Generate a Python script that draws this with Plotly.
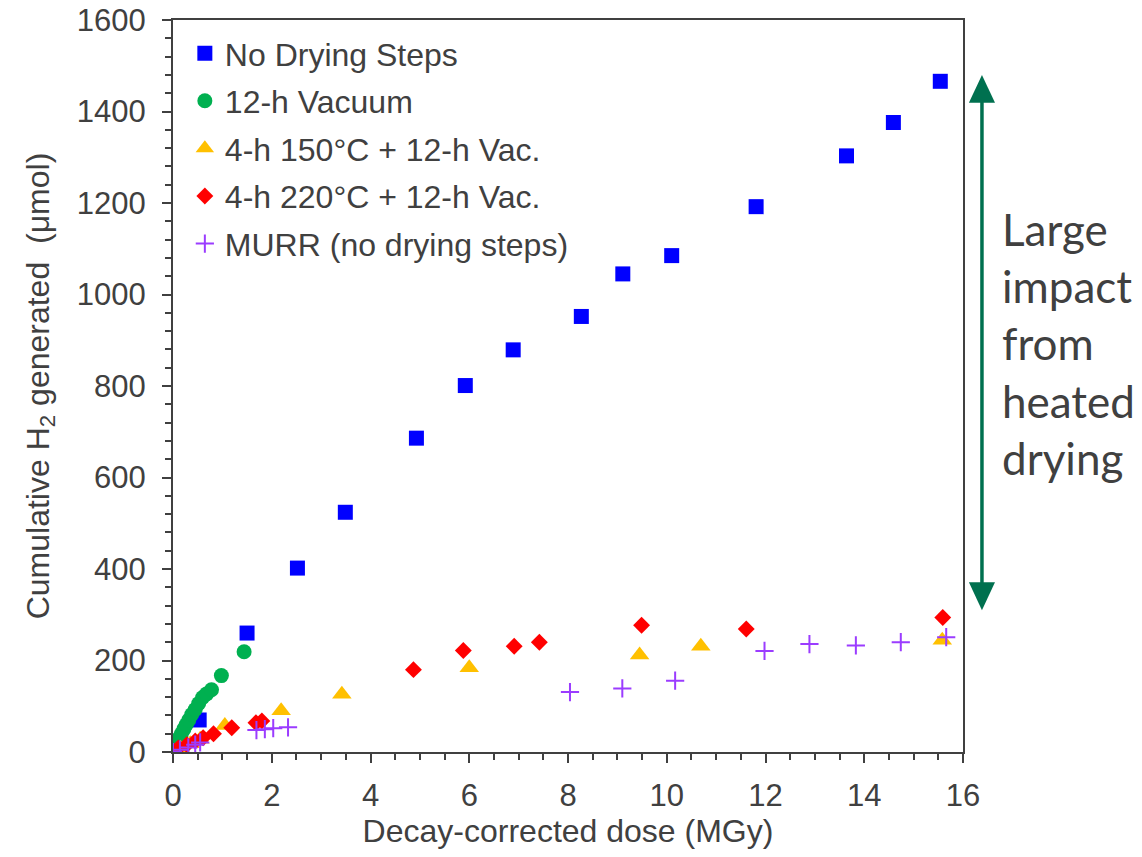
import plotly.graph_objects as go

# ---------------- data ----------------
blue_x = [0.0, 0.53, 1.50, 2.52, 3.49, 4.93, 5.92, 6.89, 8.27, 9.11, 10.10, 11.81, 13.64, 14.59, 15.54]
blue_y = [0, 70, 260, 402, 524, 686, 801, 879, 952, 1045, 1085, 1192, 1303, 1376, 1466]

green_x = [0.0, 0.04, 0.08, 0.12, 0.17, 0.22, 0.27, 0.32, 0.38, 0.45, 0.52, 0.60, 0.68, 0.78, 0.98, 1.44]
green_y = [0, 10, 20, 30, 40, 50, 60, 70, 82, 93, 106, 119, 127, 136, 167, 219]

yellow_x = [0.0, 0.15, 0.35, 0.55, 1.05, 2.19, 3.42, 6.00, 9.45, 10.69, 15.58]
yellow_y = [0, 8, 18, 28, 58, 90, 126, 184, 212, 231, 244]

red_x = [0.0, 0.11, 0.28, 0.45, 0.61, 0.82, 1.19, 1.68, 1.80, 4.87, 5.88, 6.91, 7.42, 9.49, 11.61, 15.59]
red_y = [2, 9, 16, 24, 31, 40, 53, 64, 68, 180, 222, 231, 240, 277, 269, 294]

purple_x = [0.0, 0.14, 0.31, 0.45, 0.55, 1.69, 1.86, 2.03, 2.33, 8.04, 9.10, 10.17, 11.98, 12.89, 13.83, 14.74, 15.66]
purple_y = [0, 5, 10, 16, 21, 48, 50, 52, 54, 131, 139, 156, 221, 236, 233, 240, 251]

series_names = ["No Drying Steps", "12-h Vacuum", "4-h 150°C + 12-h Vac.",
                "4-h 220°C + 12-h Vac.", "MURR (no drying steps)"]
x_ticks = [0, 2, 4, 6, 8, 10, 12, 14, 16]
y_ticks = [0, 200, 400, 600, 800, 1000, 1200, 1400, 1600]
annotation_text = ["Large", "impact", "from", "heated", "drying"]
arrow_top, arrow_bottom = 1480, 310   # y-extent of the double arrow (data units)

TXT = "#404040"
FONT = "Liberation Sans, Arial, sans-serif"
ARROW = "#00704F"

fig = go.Figure()
fig.add_trace(go.Scatter(x=blue_x, y=blue_y, mode="markers", name=series_names[0], legendgroup="a",
                         marker=dict(symbol="square", size=15, color="#0000FF")))
fig.add_trace(go.Scatter(x=green_x, y=green_y, mode="markers", name=series_names[1], legendgroup="b",
                         marker=dict(symbol="circle", size=15, color="#00B050")))
fig.add_trace(go.Scatter(x=yellow_x, y=yellow_y, mode="markers", name=series_names[2], legendgroup="c",
                         marker=dict(symbol="triangle-up", size=17, color="#FFC000")))
fig.add_trace(go.Scatter(x=red_x, y=red_y, mode="markers", name=series_names[3], legendgroup="d",
                         marker=dict(symbol="diamond", size=13, color="#FF0000")))
fig.add_trace(go.Scatter(x=purple_x, y=purple_y, mode="markers", name=series_names[4], legendgroup="e",
                         marker=dict(symbol="cross-thin", size=13, color="#9B3CFF",
                                     line=dict(color="#9B3CFF", width=2))))

axis_common = dict(showgrid=False, zeroline=False, showline=True, linecolor=TXT, linewidth=2,
                   mirror=True, ticks="outside", ticklen=9, tickwidth=2, tickcolor=TXT,
                   automargin=False, ticklabeloverflow="allow",
                   tickfont=dict(family=FONT, size=31, color=TXT))

fig.update_layout(
    width=1142, height=857,
    margin=dict(l=165, r=187, t=12, b=113, autoexpand=False),
    paper_bgcolor="white", plot_bgcolor="white",
    xaxis=dict(range=[0, 16], tickvals=x_ticks, ticktext=[str(v) for v in x_ticks],
               minor=dict(dtick=0.5, ticks="outside", ticklen=6, tickwidth=2, tickcolor=TXT),
               title=dict(text="Decay-corrected dose (MGy)", font=dict(family=FONT, size=32, color=TXT),
                          standoff=4),
               ticklabelstandoff=6,
               **axis_common),
    yaxis=dict(range=[0, 1600], tickvals=y_ticks, ticktext=[str(v) for v in y_ticks],
               minor=dict(dtick=40, ticks="outside", ticklen=6, tickwidth=2, tickcolor=TXT),
               title=dict(text="Cumulative H<sub>2</sub> generated  (μmol)",
                          font=dict(family=FONT, size=32, color=TXT), standoff=18),
               ticklabelstandoff=10,
               **axis_common),
    xaxis2=dict(range=[0, 16], overlaying="x", anchor="y", side="bottom", tickvals=x_ticks,
                ticks="inside", ticklen=9, tickwidth=2, tickcolor=TXT, showticklabels=False,
                showgrid=False, zeroline=False, showline=False, automargin=False),
    yaxis2=dict(range=[0, 1600], overlaying="y", anchor="x", side="left", tickvals=y_ticks,
                ticks="inside", ticklen=9, tickwidth=2, tickcolor=TXT, showticklabels=False,
                showgrid=False, zeroline=False, showline=False, automargin=False),
    legend=dict(x=0.015, y=0.992, xanchor="left", yanchor="top", bgcolor="rgba(0,0,0,0)",
                font=dict(family=FONT, size=32, color=TXT), tracegroupgap=3,
                traceorder="grouped", itemsizing="trace"),
    showlegend=True,
)

# double-headed arrow drawn with shapes (x in paper units, y in data units)
ax_x = 1.024
head_w = 0.0165     # half-width in paper units (~13 px)
head_h = 61         # head length in data units (~28 px)
fig.add_shape(type="line", xref="paper", yref="y", x0=ax_x, x1=ax_x,
              y0=arrow_bottom + head_h * 0.8, y1=arrow_top - head_h * 0.8,
              line=dict(color=ARROW, width=3.5))
fig.add_shape(type="path", xref="paper", yref="y", fillcolor=ARROW, line=dict(width=0),
              path=f"M {ax_x} {arrow_top} L {ax_x - head_w} {arrow_top - head_h} "
                   f"L {ax_x + head_w} {arrow_top - head_h} Z")
fig.add_shape(type="path", xref="paper", yref="y", fillcolor=ARROW, line=dict(width=0),
              path=f"M {ax_x} {arrow_bottom} L {ax_x - head_w} {arrow_bottom + head_h} "
                   f"L {ax_x + head_w} {arrow_bottom + head_h} Z")

fig.add_annotation(xref="paper", x=1.047, xanchor="left", yref="paper", y=0.558, yanchor="middle",
                   text="<br>".join(annotation_text), showarrow=False, align="left",
                   font=dict(family="Lato, sans-serif", size=44, color=TXT))

fig.write_html("out.html")
